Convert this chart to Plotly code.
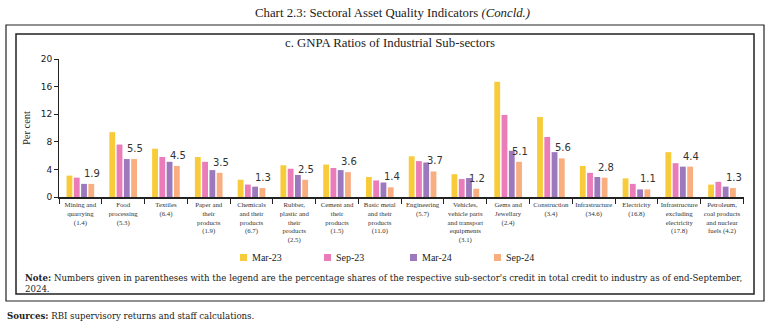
import plotly.graph_objects as go

categories = [
    "Mining and<br>quarrying<br>(1.4)",
    "Food<br>processing<br>(5.3)",
    "Textiles<br>(6.4)",
    "Paper and<br>their<br>products<br>(1.9)",
    "Chemicals<br>and their<br>products<br>(6.7)",
    "Rubber,<br>plastic and<br>their<br>products<br>(2.5)",
    "Cement and<br>their<br>products<br>(1.5)",
    "Basic metal<br>and their<br>products<br>(11.0)",
    "Engineering<br>(5.7)",
    "Vehicles,<br>vehicle parts<br>and transport<br>equipments<br>(3.1)",
    "Gems and<br>Jewellary<br>(2.4)",
    "Construction<br>(3.4)",
    "Infrastructure<br>(34.6)",
    "Electricity<br>(16.8)",
    "Infrastructure<br>excluding<br>electricity<br>(17.8)",
    "Petroleum,<br>coal products<br>and nuclear<br>fuels (4.2)",
]
series_names = ["Mar-23", "Sep-23", "Mar-24", "Sep-24"]
mar23 = [3.1, 9.4, 7.0, 5.8, 2.5, 4.6, 4.7, 2.9, 5.9, 3.3, 16.7, 11.6, 4.5, 2.7, 6.5, 1.8]
sep23 = [2.8, 7.6, 5.8, 5.1, 1.8, 4.1, 4.2, 2.4, 5.2, 2.6, 11.9, 8.7, 3.5, 1.9, 4.9, 2.2]
mar24 = [1.9, 5.5, 5.1, 3.9, 1.5, 3.2, 3.9, 2.1, 5.0, 2.75, 6.7, 6.5, 2.9, 1.1, 4.4, 1.5]
sep24 = [1.9, 5.5, 4.5, 3.5, 1.3, 2.5, 3.6, 1.4, 3.7, 1.2, 5.1, 5.6, 2.8, 1.1, 4.4, 1.3]
colors = ["#F7CB3A", "#E97CB9", "#9B79BC", "#F9AE80"]
yticks = [0, 4, 8, 12, 16, 20]

W, H = 772, 324
L, R, T, B = 59, 744, 59, 197  # plot area in pixels


def px(x):
    return (x - L) / (R - L)


def py(y):
    return (B - y) / (B - T)


SERIF = "Liberation Serif"
WIDE_SERIF = "DejaVu Serif"
fig = go.Figure()
all_series = [mar23, sep23, mar24, sep24]
for i, (name, vals) in enumerate(zip(series_names, all_series)):
    fig.add_trace(go.Bar(
        x=categories, y=vals, name=name,
        marker=dict(color=colors[i], line=dict(width=0)),
        showlegend=False,
    ))

# value labels above the Sep-24 bars
for cat, v in zip(categories, sep24):
    fig.add_annotation(x=cat, y=v, xref="x", yref="y", text=f"{v:.1f}",
                       showarrow=False, xanchor="center", yanchor="bottom",
                       xshift=12, yshift=3,
                       font=dict(family="DejaVu Sans", size=10, color="#333333"))

fig.update_layout(
    width=W, height=H,
    margin=dict(l=L, r=W - R, t=T, b=H - B),
    paper_bgcolor="white", plot_bgcolor="white",
    barmode="group", bargap=0.32, bargroupgap=0.2,
    font=dict(family=SERIF, color="#222222"),
    showlegend=False,
)
fig.update_xaxes(
    showgrid=False, showline=True, linecolor="#222222", linewidth=1.5,
    ticks="outside", tickson="boundaries", ticklen=5, tickcolor="#222222",
    tickfont=dict(family=SERIF, size=6.8, color="#333333"), tickangle=0,
    automargin=False,
)
fig.update_yaxes(
    range=[0, 20], tickvals=yticks, showgrid=False, zeroline=False,
    showline=True, linecolor="#222222", linewidth=1, ticks="outside",
    ticklen=4, tickcolor="#222222", automargin=False,
    tickfont=dict(family="DejaVu Sans", size=9, color="#222222"),
    title=dict(text="Per cent", font=dict(family=SERIF, size=10.5), standoff=8),
)

# frames
fig.add_shape(type="rect", xref="paper", yref="paper",
              x0=px(6), x1=px(764), y0=py(301), y1=py(25),
              line=dict(color="#222222", width=1.2))
fig.add_shape(type="rect", xref="paper", yref="paper",
              x0=px(16), x1=px(754), y0=py(294), y1=py(34),
              line=dict(color="#222222", width=1.5))

# titles
fig.add_annotation(xref="paper", yref="paper", x=px(392), y=py(13),
                   xanchor="center", yanchor="middle",
                   text="Chart 2.3: Sectoral Asset Quality Indicators <i>(Concld.)</i>",
                   showarrow=False, font=dict(family=SERIF, size=12.8, color="#222222"))
fig.add_annotation(xref="paper", yref="paper", x=px(390), y=py(43),
                   xanchor="center", yanchor="middle",
                   text="c. GNPA Ratios of Industrial Sub-sectors",
                   showarrow=False, font=dict(family=SERIF, size=12.8, color="#222222"))

# legend (manual)
leg_x = [240, 324, 410, 494]
for i, name in enumerate(series_names):
    fig.add_shape(type="rect", xref="paper", yref="paper",
                  x0=px(leg_x[i]), x1=px(leg_x[i] + 7), y0=py(261), y1=py(254),
                  fillcolor=colors[i], line=dict(width=0))
    fig.add_annotation(xref="paper", yref="paper", x=px(leg_x[i] + 10), y=py(257.5),
                       text=name, showarrow=False, xanchor="left", yanchor="middle",
                       font=dict(family=SERIF, size=10, color="#222222"))

# note
fig.add_annotation(xref="paper", yref="paper", x=px(23), y=py(271), yanchor="top",
                   xanchor="left", align="left", showarrow=False,
                   text="<b>Note:</b> Numbers given in parentheses with the legend are the percentage shares of the respective sub-sector's credit in total credit to industry as of end-September,<br>2024.",
                   font=dict(family=WIDE_SERIF, size=8.6, color="#222222"))
fig.add_annotation(xref="paper", yref="paper", x=px(5), y=py(316),
                   xanchor="left", yanchor="middle", showarrow=False,
                   text="<b>Sources:</b> RBI supervisory returns and staff calculations.",
                   font=dict(family=WIDE_SERIF, size=8.6, color="#222222"))

fig.write_html("out.html")
